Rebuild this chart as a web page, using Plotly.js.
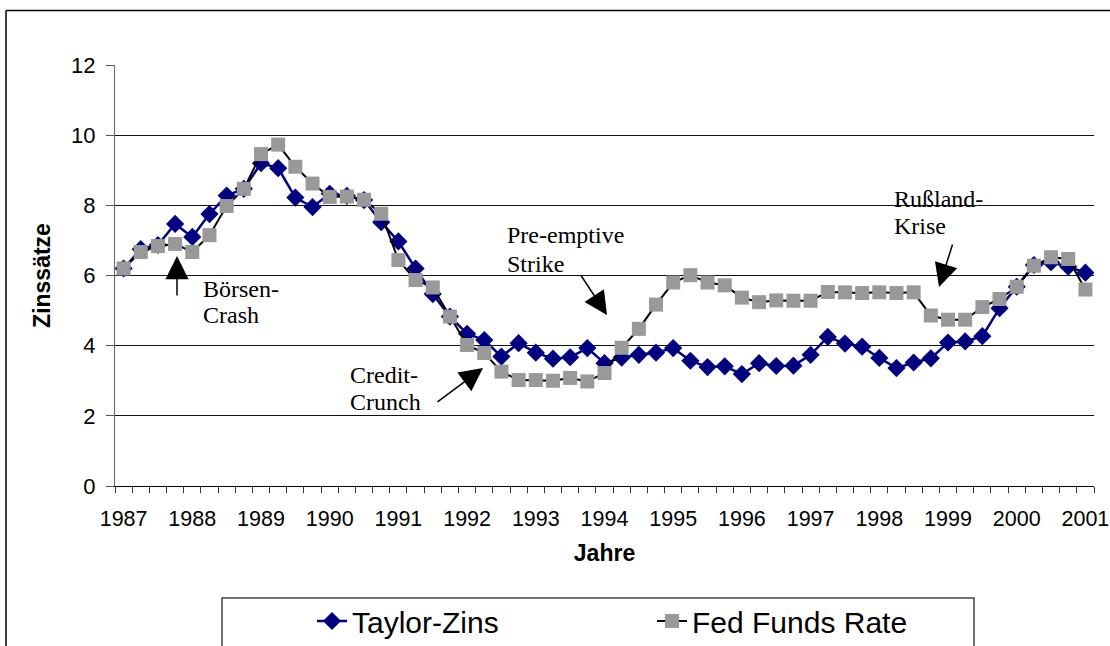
<!DOCTYPE html>
<html><head><meta charset="utf-8">
<script src="https://cdn.plot.ly/plotly-3.0.1.min.js"></script>
<style>html,body{margin:0;padding:0;background:#fff}#chart{width:1110px;height:646px}</style>
</head><body><div id="chart"></div>
<script>
// Quarterly categories 1987 Q1 .. 2001 Q1
const quarters = [
 '1987 Q1','1987 Q2','1987 Q3','1987 Q4','1988 Q1','1988 Q2','1988 Q3','1988 Q4',
 '1989 Q1','1989 Q2','1989 Q3','1989 Q4','1990 Q1','1990 Q2','1990 Q3','1990 Q4',
 '1991 Q1','1991 Q2','1991 Q3','1991 Q4','1992 Q1','1992 Q2','1992 Q3','1992 Q4',
 '1993 Q1','1993 Q2','1993 Q3','1993 Q4','1994 Q1','1994 Q2','1994 Q3','1994 Q4',
 '1995 Q1','1995 Q2','1995 Q3','1995 Q4','1996 Q1','1996 Q2','1996 Q3','1996 Q4',
 '1997 Q1','1997 Q2','1997 Q3','1997 Q4','1998 Q1','1998 Q2','1998 Q3','1998 Q4',
 '1999 Q1','1999 Q2','1999 Q3','1999 Q4','2000 Q1','2000 Q2','2000 Q3','2000 Q4',
 '2001 Q1'];
const yearLabels = ['1987','1988','1989','1990','1991','1992','1993','1994','1995','1996','1997','1998','1999','2000','2001'];
const taylorZins = [
 6.20,6.75,6.87,7.47,7.10,7.75,8.28,8.47,
 9.20,9.06,8.22,7.95,8.33,8.27,8.15,7.52,
 6.97,6.20,5.47,4.83,4.34,4.16,3.69,4.07,
 3.80,3.63,3.67,3.93,3.50,3.66,3.74,3.80,
 3.93,3.57,3.39,3.41,3.19,3.50,3.42,3.43,
 3.74,4.25,4.06,3.97,3.65,3.36,3.52,3.64,
 4.09,4.12,4.27,5.07,5.68,6.30,6.38,6.25,
 6.08];
const fedFundsRate = [
 6.20,6.67,6.84,6.90,6.67,7.15,7.98,8.47,
 9.46,9.73,9.10,8.62,8.24,8.25,8.16,7.76,
 6.44,5.87,5.66,4.83,4.02,3.79,3.26,3.02,
 3.02,3.00,3.08,2.98,3.22,3.94,4.48,5.17,
 5.80,6.01,5.80,5.72,5.37,5.24,5.29,5.28,
 5.28,5.53,5.52,5.50,5.52,5.50,5.52,4.86,
 4.74,4.74,5.10,5.33,5.68,6.28,6.52,6.47,
 5.60];
const yTicks = [0,2,4,6,8,10,12];

const W=1110, H=646, L=115, R=16, T=65, B=160;
const pw=W-L-R, ph=H-T-B;
const px = v => (v-L)/pw;
const py = v => (H-B-v)/ph;

const xIdx = quarters.map((q,i)=>i);
const yearIdx = yearLabels.map(y => quarters.indexOf(y+' Q1'));

const traces = [
 {x:xIdx, y:taylorZins, text:quarters, name:'Taylor-Zins', type:'scatter', mode:'lines+markers',
  line:{color:'#000080', width:2.5}, marker:{symbol:'diamond', size:14, color:'#000080'}},
 {x:xIdx, y:fedFundsRate, text:quarters, name:'Fed Funds Rate', type:'scatter', mode:'lines+markers',
  line:{color:'#000000', width:2}, marker:{symbol:'square', size:14, color:'#999999'}}
];

const sans = 'Liberation Sans, Arial, sans-serif';
const serif = {family:'Liberation Serif, Times New Roman, serif', size:24, color:'#000'};
function txt(t, left, center){
  return {text:t, xref:'paper', yref:'paper', x:px(left-1), y:py(center), xanchor:'left', yanchor:'middle',
          showarrow:false, font:serif};
}
function arrow(tipx, tipy, ax, ay){
  return {text:'', xref:'paper', yref:'paper', x:px(tipx), y:py(tipy), ax:ax, ay:ay,
          showarrow:true, arrowhead:2, arrowsize:3.1, arrowwidth:1.5, arrowcolor:'#000'};
}

const annotations = [
  txt('Börsen-',202,289), txt('Crash',202,315),
  txt('Credit-',349,375), txt('Crunch',349,402),
  txt('Pre-emptive',506,235), txt('Strike',506,264),
  txt('Rußland-',893,199), txt('Krise',893,226),
  arrow(177,256,0,41),
  arrow(483,368,-47,35),
  arrow(607,315,-27,-41),
  arrow(939,287,14,-44)
];

const layout = {
  width:W, height:H, margin:{l:L, r:R, t:T, b:B, autoexpand:false},
  paper_bgcolor:'#fff', plot_bgcolor:'#fff',
  font:{family:sans, color:'#000'},
  showlegend:true,
  legend:{orientation:'h', x:px(312), xanchor:'left', y:py(595), yanchor:'top',
          font:{family:sans, size:30, color:'#000'},
          entrywidth:295, bgcolor:'rgba(0,0,0,0)', borderwidth:0},
  xaxis:{range:[-0.5,56.5], tickmode:'array', tickvals:yearIdx, ticktext:yearLabels, tickangle:0,
         ticks:'', showgrid:false, zeroline:false, showline:true, linecolor:'#000', linewidth:1,
         tickfont:{family:sans, size:21.5, color:'#000'}, ticklabelstandoff:13, automargin:true,
         minor:{tickmode:'linear', tick0:-0.5, dtick:1, ticks:'outside', ticklen:6, tickcolor:'#333', tickwidth:1, showgrid:false},
         title:{text:'Jahre', font:{family:sans, size:23, weight:700}, standoff:15}},
  yaxis:{range:[0,12], tickmode:'array', tickvals:yTicks, ticks:'outside', ticklen:8, tickcolor:'#555', tickwidth:1,
         showgrid:true, gridcolor:'#111', gridwidth:1, zeroline:false, showline:true, linecolor:'#666', linewidth:1,
         tickfont:{family:sans, size:22, color:'#000'}, ticklabelstandoff:6, automargin:true,
         title:{text:'Zinssätze', font:{family:sans, size:23, weight:700}, standoff:14}},
  shapes:[
    {type:'line', xref:'paper', yref:'paper', x0:px(6), x1:px(1130), y0:py(10.5), y1:py(10.5), line:{color:'#000', width:1.5}},
    {type:'line', xref:'paper', yref:'paper', x0:px(6), x1:px(6), y0:py(10.5), y1:py(680), line:{color:'#000', width:1.5}},
    {type:'rect', xref:'paper', yref:'paper', x0:px(222), x1:px(974), y0:py(598), y1:py(680), line:{color:'#444', width:1.5}, fillcolor:'rgba(0,0,0,0)'}
  ],
  annotations:annotations
};

Plotly.newPlot('chart', traces, layout, {displayModeBar:false, staticPlot:true});
</script>
</body></html>
